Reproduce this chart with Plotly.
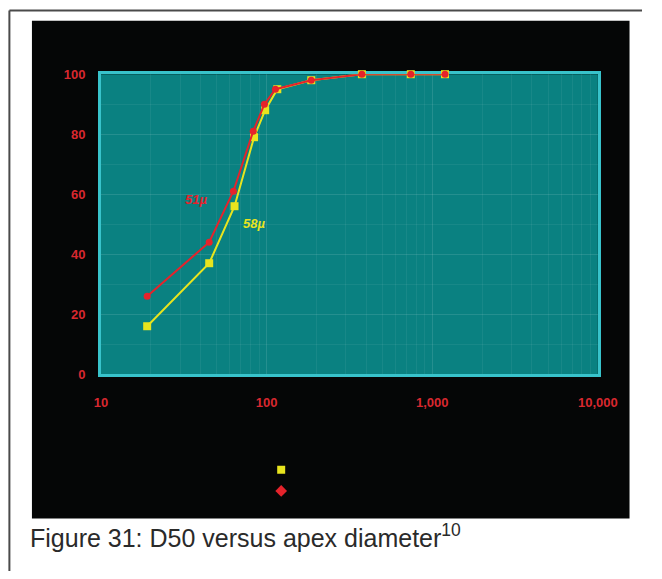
import plotly.graph_objects as go

W, H = 662, 579

# ---- data ----
red_x = [19, 45, 63, 83, 97, 113, 186, 376, 742, 1194]
red_y = [26, 44, 61, 81, 90, 95, 98, 100, 100, 100]
yellow_x = [19, 45, 64, 84, 98, 116, 186, 376, 742, 1194]
yellow_y = [16, 37, 56, 79, 88, 95, 98, 100, 100, 100]
red_label = "51µ"
yellow_label = "58µ"
y_ticks = [0, 20, 40, 60, 80, 100]
x_ticks = [10, 100, 1000, 10000]
x_ticktext = ["10", "100", "1,000", "10,000"]
caption = "Figure 31: D50 versus apex diameter<sup>10</sup>"

RED = "#e5232b"
YEL = "#e8e41e"
TEAL = "#0a8181"
CYAN = "#38c3cb"
TICK_RED = "#d8282f"
GRID = "rgba(255,255,255,0.06)"

def px(x):
    return x / W

def py(y):
    return 1 - y / H

fig = go.Figure()

fig.add_trace(go.Scatter(
    x=yellow_x, y=yellow_y, mode="lines+markers",
    line=dict(color=YEL, width=2),
    marker=dict(symbol="square", size=8, color=YEL),
    showlegend=False, hoverinfo="skip", cliponaxis=False))
fig.add_trace(go.Scatter(
    x=red_x, y=red_y, mode="lines+markers",
    line=dict(color=RED, width=2),
    marker=dict(symbol="circle", size=7, color=RED),
    showlegend=False, hoverinfo="skip", cliponaxis=False))

# legend-only entries (markers, no text)
fig.add_trace(go.Scatter(x=[None], y=[None], mode="markers", name=" ",
                         marker=dict(symbol="square", size=8, color=YEL)))
fig.add_trace(go.Scatter(x=[None], y=[None], mode="markers", name=" ",
                         marker=dict(symbol="diamond", size=9, color=RED)))

shapes = [
    # page border (top and left)
    dict(type="line", xref="paper", yref="paper", x0=px(2.5), x1=1.0, y0=py(3.5), y1=py(3.5),
         line=dict(color="#4a4a4a", width=2), layer="below"),
    dict(type="line", xref="paper", yref="paper", x0=px(2.5), x1=px(2.5), y0=py(3.5), y1=0,
         line=dict(color="#4a4a4a", width=2), layer="below"),
    # black chart background
    dict(type="rect", xref="paper", yref="paper", x0=px(26), x1=px(649), y0=py(525), y1=py(14),
         fillcolor="#050606", line=dict(width=0), layer="below"),
    # teal plot area
    dict(type="rect", xref="x domain", yref="y domain", x0=0, x1=1, y0=0, y1=1,
         fillcolor=TEAL, line=dict(width=0), layer="below"),
]

annotations = [
    dict(text="<b><i>" + red_label + "</i></b>", x=1.573, y=58.4, xref="x", yref="y",
         xanchor="center", yanchor="middle", showarrow=False,
         font=dict(family="Liberation Sans, Arial", size=13, color=RED)),
    dict(text="<b><i>" + yellow_label + "</i></b>", x=1.926, y=50.3, xref="x", yref="y",
         xanchor="center", yanchor="middle", showarrow=False,
         font=dict(family="Liberation Sans, Arial", size=13, color=YEL)),
    dict(text=caption, x=px(22), y=py(543), xref="paper", yref="paper",
         xanchor="left", yanchor="middle", showarrow=False,
         font=dict(family="Liberation Sans, Arial", size=25, color="#2a2a2a")),
]

fig.update_layout(
    width=W, height=H,
    margin=dict(l=0, r=0, t=0, b=0),
    paper_bgcolor="white",
    plot_bgcolor=TEAL,
    shapes=shapes,
    annotations=annotations,
    showlegend=True,
    legend=dict(x=px(265), y=py(459), xanchor="left", yanchor="top",
                bgcolor="rgba(0,0,0,0)", font=dict(size=14, color="#050606"),
                itemwidth=30, tracegroupgap=0),
    xaxis=dict(
        type="log", range=[1, 4],
        domain=[px(98), px(616)],
        tickvals=x_ticks, ticktext=["<b>" + t + "</b>" for t in x_ticktext],
        tickfont=dict(family="Liberation Sans, Arial", size=13, color=TICK_RED),
        ticks="outside", ticklen=14, tickcolor="rgba(0,0,0,0)",
        showgrid=True, gridcolor=GRID, gridwidth=1,
        minor=dict(showgrid=True, gridcolor=GRID, ticks="", dtick="D1"),
        showline=True, mirror=True, linecolor=CYAN, linewidth=3,
        zeroline=False, layer="below traces",
    ),
    yaxis=dict(
        range=[0, 100],
        domain=[py(377), py(69)],
        tickvals=y_ticks, ticktext=["<b>%d</b>" % v for v in y_ticks],
        tickfont=dict(family="Liberation Sans, Arial", size=13, color=TICK_RED),
        ticks="outside", ticklen=10, tickcolor="rgba(0,0,0,0)",
        showgrid=True, gridcolor=GRID, gridwidth=1,
        minor=dict(dtick=10, showgrid=True, gridcolor=GRID, ticks=""),
        showline=True, mirror=True, linecolor=CYAN, linewidth=3,
        zeroline=False, layer="below traces",
    ),
)

fig.write_html("out.html")
